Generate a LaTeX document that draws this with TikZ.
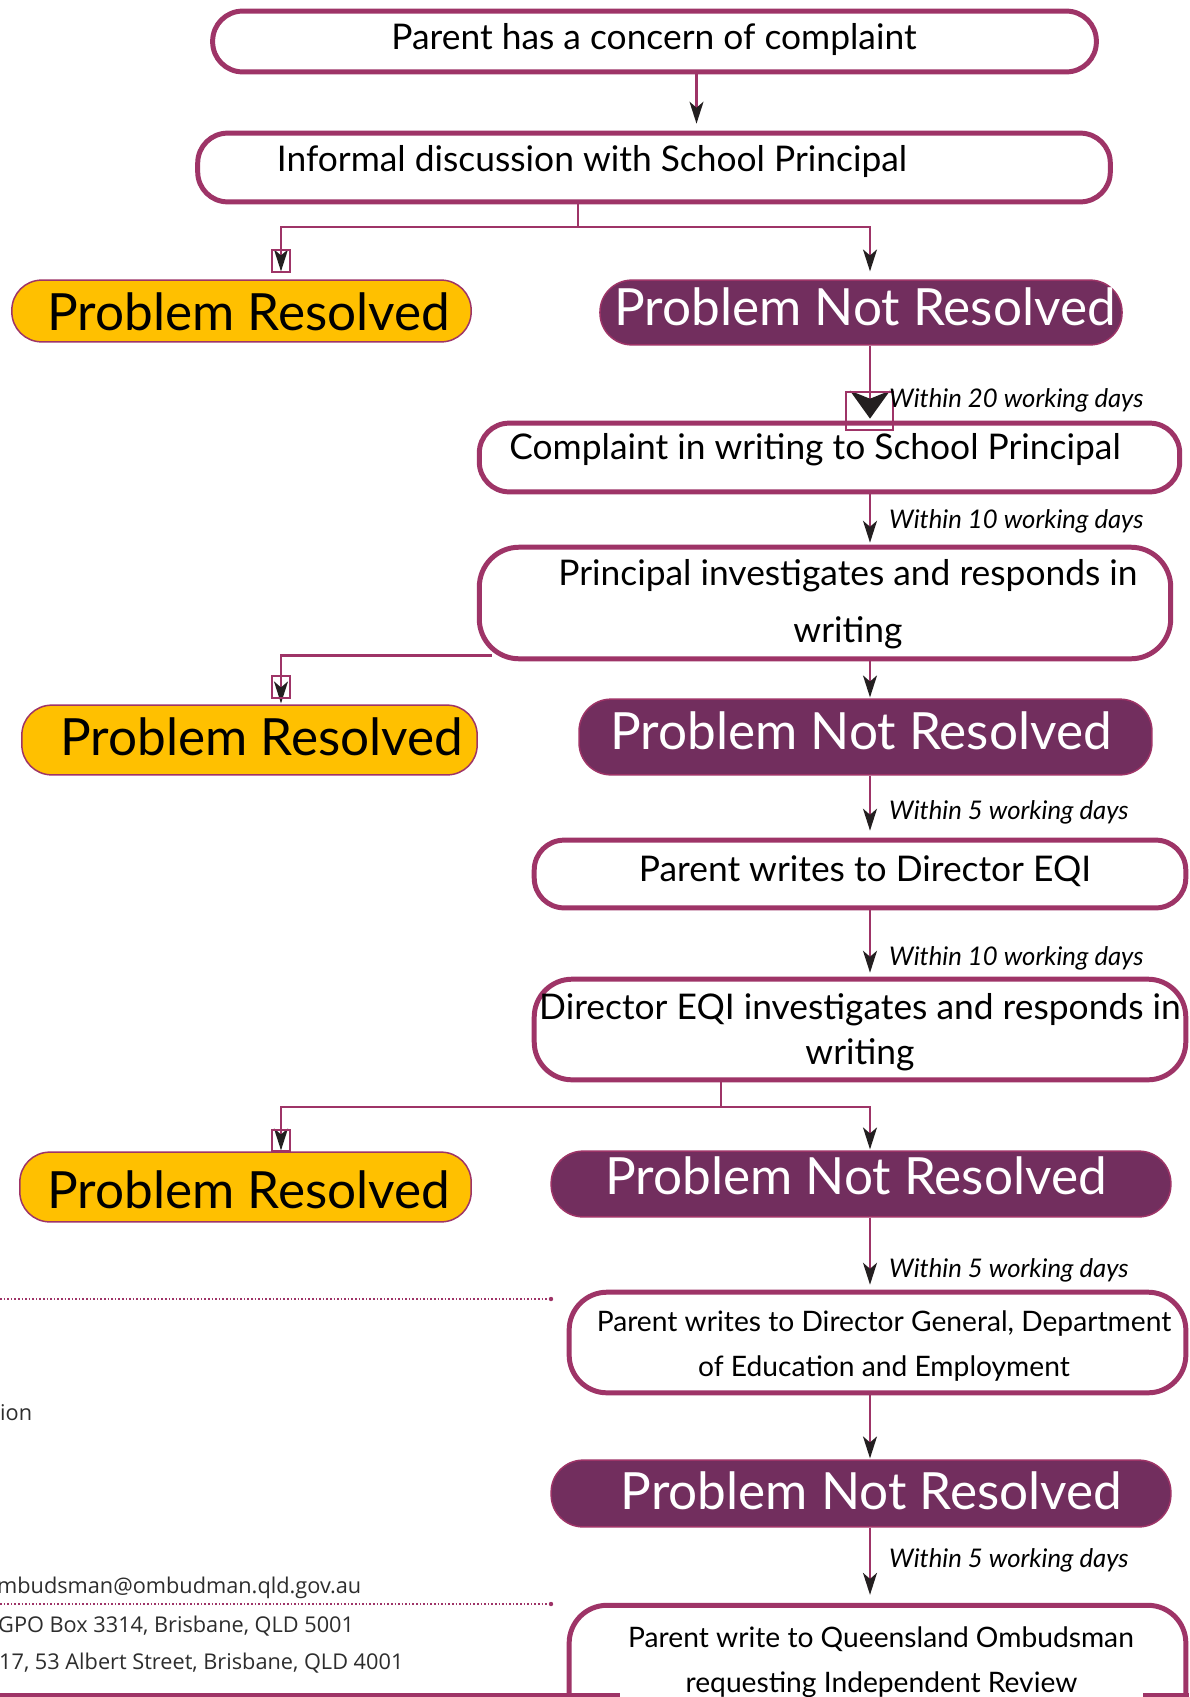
\documentclass[tikz,border=0pt]{standalone}
\usepackage{fontspec}
\setmainfont{Lato}
\newfontfamily\sidefont{Open Sans}
\usetikzlibrary{arrows.meta,calc}
\definecolor{brd}{RGB}{158,52,103}
\definecolor{pnrc}{RGB}{114,46,94}
\definecolor{yel}{RGB}{255,192,0}
\definecolor{tipc}{RGB}{35,31,32}
\definecolor{sidec}{RGB}{45,45,45}
\tikzset{
  box/.style={draw=brd, line width=5pt, fill=white, rounded corners=30pt, inner sep=0pt},
  prbox/.style={draw=brd, line width=1.5pt, fill=yel, rounded corners=30pt, inner sep=0pt},
  pnrbox/.style={draw=brd, line width=1.5pt, fill=pnrc, rounded corners=32pt, inner sep=0pt},
  txt/.style={inner sep=0pt, yshift=-3pt, font=\fontsize{35.5}{40}\selectfont},
  stxt/.style={inner sep=0pt, yshift=-2pt, font=\fontsize{28.3}{33}\selectfont},
  bigtxt/.style={inner sep=0pt, font=\fontsize{51.5}{58}\selectfont},
  lbl/.style={inner sep=0pt, anchor=west, yshift=-2pt, font=\itshape\fontsize{25.8}{30}\selectfont},
  side/.style={inner sep=0pt, anchor=west, text=sidec, font=\sidefont\fontsize{21.8}{26}\selectfont},
  plain/.style={draw=brd, line width=2.5pt},
  conn/.style={draw=brd, line width=2.5pt, -{Stealth[length=22pt,width=14pt,inset=6pt,color=tipc]}},
  bigconn/.style={draw=brd, line width=2.5pt, -{Stealth[length=28pt,width=40pt,inset=8pt,color=tipc]}},
  tipsq/.style={draw=brd, line width=1.3pt}
}
\begin{document}
\begin{tikzpicture}[x=1bp,y=-1bp]
\useasboundingbox (0,0) rectangle (1189,1697);
\clip (0,0) rectangle (1189,1697);
\fill[white] (0,0) rectangle (1189,1697);

% background fragments on the left
\draw[brd, line width=1.6pt, dotted] (0,1299) -- (551,1299);
\fill[brd] (551,1299) circle (2.2);
\draw[brd, line width=1.6pt, dotted] (0,1604) -- (551,1604);
\fill[brd] (551,1604) circle (2.2);
\node[side] (s1) at (0,1413) {ion};
\node[side] (s2) at (-3,1588) {mbudsman@ombudman.qld.gov.au};
\node[side] (s3) at (-2,1626) {GPO Box 3314, Brisbane, QLD 5001};
\node[side] (s4) at (-1,1663) {17, 53 Albert Street, Brisbane, QLD 4001};

% guide coordinates
\coordinate (tr) at (870,0);
\coordinate (l1) at (281,0);
\coordinate (j1) at (578,227);
\coordinate (j3) at (721,1107);

% boxes
\node[box, minimum width=887pt, minimum height=61pt] (b1) at (654.5,41.5) {};
\node[txt] (t1) at (654,37) {Parent has a concern of complaint};

\node[box, minimum width=916pt, minimum height=69pt] (b2) at (654,167.5) {};
\node[txt] (t2) at (592,159) {Informal discussion with School Principal};

\node[prbox, minimum width=461pt, minimum height=62pt] (pr1) at (241.5,311) {};
\node[bigtxt] (tpr1) at (249,312) {Problem Resolved};

\node[pnrbox, minimum width=524pt, minimum height=65pt] (pnr1) at (861,312.5) {};
\node[bigtxt, text=white] (tpnr1) at (865,307) {Problem Not Resolved};

\node[box, minimum width=703pt, minimum height=69pt] (b3) at (829.5,457.5) {};
\node[txt] (t3) at (815,447) {Complaint in writing to School Principal};

\node[box, rounded corners=40pt, minimum width=694pt, minimum height=112pt] (b4) at (825,603) {};
\node[txt] (t4a) at (848,573) {Principal investigates and responds in};
\node[txt] (t4b) at (848,630) {writing};

\node[prbox, minimum width=457pt, minimum height=70pt] (pr2) at (249.5,740) {};
\node[bigtxt] (tpr2) at (262,737) {Problem Resolved};

\node[pnrbox, minimum width=575pt, minimum height=76pt] (pnr2) at (865.5,737) {};
\node[bigtxt, text=white] (tpnr2) at (861,731) {Problem Not Resolved};

\node[box, minimum width=654pt, minimum height=68pt] (b5) at (860,874) {};
\node[txt] (t5) at (865,868) {Parent writes to Director EQI};

\node[box, rounded corners=38pt, minimum width=654pt, minimum height=101pt] (b6) at (860,1029.5) {};
\node[txt] (t6a) at (860,1007) {Director EQI investigates and responds in};
\node[txt] (t6b) at (860,1052) {writing};

\node[prbox, minimum width=453pt, minimum height=70pt] (pr3) at (245.5,1187) {};
\node[bigtxt] (tpr3) at (249,1190) {Problem Resolved};

\node[pnrbox, minimum width=622pt, minimum height=66pt] (pnr3) at (861,1184) {};
\node[bigtxt, text=white] (tpnr3) at (856,1176) {Problem Not Resolved};

\node[box, rounded corners=38pt, minimum width=619pt, minimum height=101pt] (b7) at (877.5,1342.5) {};
\node[stxt] (t7a) at (884,1322) {Parent writes to Director General, Department};
\node[stxt] (t7b) at (884,1367) {of Education and Employment};

\node[pnrbox, minimum width=622pt, minimum height=67pt] (pnr4) at (861,1493.5) {};
\node[bigtxt, text=white] (tpnr4) at (871.5,1491) {Problem Not Resolved};

\node[box, rounded corners=38pt, minimum width=619pt, minimum height=155pt] (b8) at (877.5,1682.5) {};
\draw[brd, line width=4pt] (0,1695) -- (1189,1695);
\node[stxt] (t8a) at (881,1637) {Parent write to Queensland Ombudsman};
\node[stxt, fill=white, minimum width=525pt, minimum height=36pt] (t8b) at (881.5,1683) {requesting Independent Review};

% connectors
\draw[conn, shorten >=7pt] (b1.south -| 696.5,0) -- (b2.north -| 696.5,0);
\draw[plain] (b2.south -| j1) -- (j1);
\draw[conn, shorten >=8pt] (j1) -| (pr1.north -| l1);
\draw[conn, shorten >=8pt] (j1) -| (pnr1.north -| tr);

\draw[bigconn, shorten >=2pt] (pnr1.south -| tr) -- (b3.north -| tr);
\draw[tipsq] (846,392) rectangle (893,430);
\node[lbl] (w1) at (889,398) {Within 20 working days};

\draw[conn, shorten >=2pt] (b3.south -| tr) -- (b4.north -| tr);
\node[lbl] (w2) at (889,519) {Within 10 working days};

\draw[conn, shorten >=1pt] ($(b4.south west)+(15,-6)$) -| (pr2.north -| l1);
\draw[conn, shorten >=1pt] (b4.south -| tr) -- (pnr2.north -| tr);

\draw[conn, shorten >=7pt] (pnr2.south -| tr) -- (b5.north -| tr);
\node[lbl] (w3) at (889,810) {Within 5 working days};

\draw[conn, shorten >=4pt] (b5.south -| tr) -- (b6.north -| tr);
\node[lbl] (w4) at (889,956) {Within 10 working days};

\draw[plain] (b6.south -| j3) -- (j3);
\draw[conn, shorten >=1pt] (j3) -| (pr3.north -| l1);
\draw[conn, shorten >=1pt] (j3) -| (pnr3.north -| tr);

\draw[conn, shorten >=5pt] (pnr3.south -| tr) -- (b7.north -| tr);
\node[lbl] (w5) at (889,1268) {Within 5 working days};

\draw[conn, shorten >=1pt] (b7.south -| tr) -- (pnr4.north -| tr);

\draw[conn, shorten >=8pt] (pnr4.south -| tr) -- (b8.north -| tr);
\node[lbl] (w6) at (889,1558) {Within 5 working days};

% small squares round the arrow tips
\draw[tipsq] (272,250) rectangle (290,272);
\draw[tipsq] (272,676) rectangle (290,698);
\draw[tipsq] (272,1130) rectangle (290,1151);
\end{tikzpicture}
\end{document}
